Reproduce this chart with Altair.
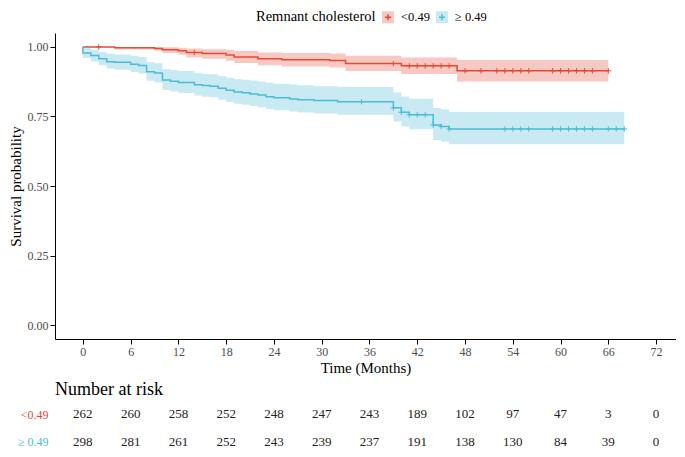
import altair as alt
import pandas as pd

RED = "#E64B35"
BLUE = "#4DBBD5"
GROUPS = ["<0.49", "≥ 0.49"]
FONT = "Liberation Serif"

# Kaplan-Meier steps (<0.49 group)
low_time = [0, 4, 9, 10, 12, 13, 15, 18, 19, 22, 25, 31, 33, 40, 47, 66]
low_surv = [1.000, 0.997, 0.994, 0.990, 0.986, 0.980, 0.976, 0.971, 0.964, 0.957, 0.954, 0.951, 0.940, 0.932, 0.914, 0.914]
low_lower = [1.000, 0.991, 0.986, 0.978, 0.972, 0.962, 0.957, 0.950, 0.942, 0.934, 0.930, 0.926, 0.913, 0.903, 0.876, 0.876]
low_upper = [1.000, 1.000, 1.000, 0.999, 0.997, 0.994, 0.992, 0.990, 0.985, 0.980, 0.978, 0.976, 0.968, 0.962, 0.953, 0.953]
low_censor = [2, 14, 39, 41, 42, 43, 44, 45, 46, 48, 50, 52, 53, 54, 55, 56, 59, 60, 61, 62, 63, 64, 66]

# (>= 0.49 group)
high_time = [0, 0, 1, 2, 3, 4, 6, 7, 8, 9, 10, 11, 12, 14, 15, 16, 17, 18, 19, 20, 21, 22, 23, 24, 26, 27, 29, 32, 39, 40, 41, 44, 45, 46, 68]
high_surv = [1.000, 0.978, 0.969, 0.957, 0.947, 0.945, 0.938, 0.933, 0.911, 0.906, 0.881, 0.877, 0.872, 0.864, 0.861, 0.859, 0.851, 0.844, 0.838, 0.835, 0.831, 0.827, 0.821, 0.817, 0.813, 0.810, 0.807, 0.803, 0.781, 0.765, 0.756, 0.719, 0.714, 0.705, 0.705]
high_lower = [1.000, 0.960, 0.948, 0.934, 0.922, 0.918, 0.910, 0.904, 0.878, 0.872, 0.845, 0.840, 0.834, 0.825, 0.821, 0.819, 0.810, 0.802, 0.796, 0.792, 0.788, 0.783, 0.777, 0.772, 0.768, 0.764, 0.761, 0.756, 0.732, 0.714, 0.704, 0.665, 0.659, 0.650, 0.650]
high_upper = [1.000, 0.997, 0.990, 0.982, 0.975, 0.973, 0.968, 0.964, 0.945, 0.941, 0.920, 0.917, 0.913, 0.906, 0.903, 0.902, 0.895, 0.889, 0.884, 0.882, 0.879, 0.876, 0.871, 0.868, 0.865, 0.862, 0.859, 0.856, 0.836, 0.822, 0.814, 0.780, 0.776, 0.766, 0.766]
high_censor = [35, 39, 40, 41, 42, 43, 44, 45, 46, 53, 54, 55, 56, 59, 60, 61, 62, 63, 64, 66, 67, 68]

# Number at risk
risk_times = [0, 6, 12, 18, 24, 30, 36, 42, 48, 54, 60, 66, 72]
risk_low = [262, 260, 258, 252, 248, 247, 243, 189, 102, 97, 47, 3, 0]
risk_high = [298, 281, 261, 252, 243, 239, 237, 191, 138, 130, 84, 39, 0]


def surv_at(times, survs, t):
    idx = 0
    for i, tt in enumerate(times):
        if tt <= t:
            idx = i
    return survs[idx]


rows = []
for g, T, S, L, U in [(GROUPS[0], low_time, low_surv, low_lower, low_upper),
                      (GROUPS[1], high_time, high_surv, high_lower, high_upper)]:
    for i, (t, s, l, u) in enumerate(zip(T, S, L, U)):
        rows.append({"group": g, "grp": g, "time": t, "surv": s, "lower": l, "upper": u, "idx": i})
curve = pd.DataFrame(rows)

# the confidence band starts after the instantaneous drop at t = 0
band_df = curve.drop_duplicates(subset=["group", "time"], keep="last").reset_index(drop=True)

cens = []
for g, T, S, C in [(GROUPS[0], low_time, low_surv, low_censor),
                   (GROUPS[1], high_time, high_surv, high_censor)]:
    for c in C:
        cens.append({"group": g, "time": c, "surv": surv_at(T, S, c)})
cens = pd.DataFrame(cens)

risk = pd.DataFrame(
    [{"group": GROUPS[0], "time": t, "n": n} for t, n in zip(risk_times, risk_low)]
    + [{"group": GROUPS[1], "time": t, "n": n} for t, n in zip(risk_times, risk_high)]
)

W = 621
xscale = alt.Scale(domain=[-3.5, 74.5], nice=False, zero=False)
yscale = alt.Scale(domain=[-0.05, 1.05], nice=False, zero=False)

x_enc = alt.X("time:Q", scale=xscale,
              axis=alt.Axis(values=risk_times, title="Time (Months)", grid=False,
                            labelFontSize=12, titleFontSize=15, labelColor="#4D4D4D",
                            titleColor="black", titleFontWeight="normal",
                            domainColor="black", tickColor="black",
                            tickSize=5, labelPadding=2, titlePadding=3, labelFlush=False))

LEG_X = 201
LEG_Y = -23
common_leg = dict(orient="none", legendX=LEG_X, legendY=LEG_Y, direction="horizontal",
                  titleOrient="left", title="Remnant cholesterol", titleFontSize=14.5,
                  titleFontWeight="normal", titleColor="black", labelFontSize=12.5,
                  labelColor="black", symbolSize=144, titlePadding=5, columnPadding=5,
                  labelOffset=6, titleBaseline="middle", titleAnchor="middle")

band = alt.Chart(band_df).mark_area(interpolate="step-after", opacity=0.3).encode(
    x=x_enc,
    y=alt.Y("lower:Q", scale=yscale, stack=None),
    y2="upper:Q",
    fill=alt.Fill("group:N", scale=alt.Scale(range=[RED, BLUE]),
                  legend=alt.Legend(symbolType="square", symbolOpacity=0.3, **common_leg)),
)

line = alt.Chart(curve).mark_line(interpolate="step-after", strokeWidth=1.5).encode(
    x=x_enc,
    y=alt.Y("surv:Q", scale=yscale,
            axis=alt.Axis(values=[0, 0.25, 0.5, 0.75, 1.0], format=".2f",
                          title="Survival probability", grid=False, labelFontSize=12,
                          titleFontSize=15, titleFontWeight="normal", labelColor="#4D4D4D",
                          titleColor="black", domainColor="black", tickColor="black",
                          tickSize=5, labelPadding=2, titlePadding=4)),
    stroke=alt.Stroke("grp:N", scale=alt.Scale(domain=GROUPS, range=[RED, BLUE]),
                      legend=alt.Legend(symbolType="M-0.5,0H0.5M0,-0.5V0.5",
                                        symbolStrokeWidth=1.5, labelOpacity=0,
                                        titleOpacity=0, **common_leg)),
    order="idx:Q",
)

points = alt.Chart(cens).mark_point(shape="M-1,0H1M0,-1V1", size=30, strokeWidth=1,
                                    filled=False, opacity=1).encode(
    x=alt.X("time:Q", scale=xscale),
    y=alt.Y("surv:Q", scale=yscale),
    color=alt.Color("group:N", scale=alt.Scale(domain=GROUPS, range=[RED, BLUE]), legend=None),
)

main = alt.layer(band, line, points).properties(width=W, height=306)

table = alt.Chart(risk).mark_text(fontSize=13, color="#222222", font=FONT).encode(
    x=alt.X("time:Q", scale=xscale, axis=None),
    y=alt.Y("group:N", sort=GROUPS, title=None, scale=alt.Scale(padding=0.3),
            axis=alt.Axis(ticks=False, domain=False, labelFontSize=12, labelPadding=7,
                          labelColor={"expr": "datum.value == '<0.49' ? '#E64B35' : '#4DBBD5'"})),
    text="n:Q",
).properties(
    width=W, height=44,
    title=alt.TitleParams("Number at risk", anchor="start", frame="group", fontSize=18,
                          fontWeight="normal", font=FONT, color="black", offset=7),
)

chart = alt.vconcat(main, table, spacing=6).properties(
    padding={"left": 0, "top": 2, "right": 0, "bottom": 0}
).configure(font=FONT).configure_view(stroke=None).resolve_scale(x="independent")

chart.save("out.html", embed_options={"renderer": "svg", "actions": False})
